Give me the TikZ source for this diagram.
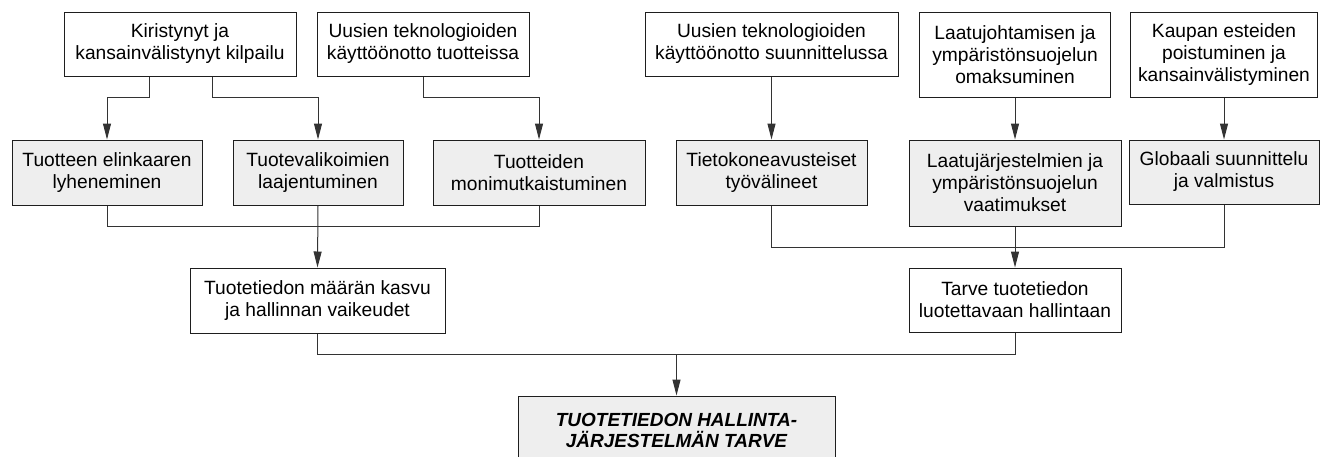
\documentclass[tikz,border=0pt]{standalone}
\usepackage{fontspec}
\setmainfont{Liberation Sans}
\usetikzlibrary{arrows.meta}
\definecolor{boxgray}{HTML}{EEEEEE}
\definecolor{edge}{HTML}{1E1E1E}
\definecolor{wire}{HTML}{333333}
\tikzset{
  base/.style={draw=edge, line width=1pt, rectangle, inner sep=0pt, align=center,
    font=\fontsize{19.2}{22}\selectfont, anchor=center},
  cause/.style={base, fill=white},
  effect/.style={base, fill=boxgray},
  goal/.style={base, fill=boxgray, font=\fontsize{19}{21}\selectfont\bfseries\itshape},
  wireline/.style={draw=wire, line width=1pt},
  arr/.style={wireline, -{Triangle[length=16pt,width=8pt]}}
}
\begin{document}
\begin{tikzpicture}[x=1pt, y=-1pt]
\useasboundingbox (0,0) rectangle (1324,456);
\clip (0,0) rectangle (1324,456);

% top row: driving factors
\node[cause, minimum width=232pt, minimum height=64pt] (A) at (180,44)
  {Kiristynyt ja\\kansainvälistynyt kilpailu};
\node[cause, minimum width=212pt, minimum height=64pt] (B) at (423,44)
  {Uusien teknologioiden\\käyttöönotto tuotteissa};
\node[cause, minimum width=253pt, minimum height=64pt] (C) at (771.5,44)
  {Uusien teknologioiden\\käyttöönotto suunnittelussa};
\node[cause, minimum width=191pt, minimum height=85pt] (D) at (1015,54.5)
  {Laatujohtamisen ja\\ympäristönsuojelun\\omaksuminen};
\node[cause, minimum width=187pt, minimum height=85pt] (E) at (1224,54.5)
  {Kaupan esteiden\\poistuminen ja\\kansainvälistyminen};

% second row: consequences
\node[effect, minimum width=190pt, minimum height=65pt] (F) at (107,172.5)
  {Tuotteen elinkaaren\\lyheneminen};
\node[effect, minimum width=170pt, minimum height=65pt] (G) at (318,172.5)
  {Tuotevalikoimien\\laajentuminen};
\node[effect, minimum width=212pt, minimum height=65pt] (H) at (539,172.5)
  {Tuotteiden\\monimutkaistuminen};
\node[effect, minimum width=191pt, minimum height=65pt] (I) at (771.5,172.5)
  {Tietokoneavusteiset\\työvälineet};
\node[effect, minimum width=212pt, minimum height=86pt] (J) at (1015,183)
  {Laatujärjestelmien ja\\ympäristönsuojelun\\vaatimukset};
\node[effect, minimum width=190pt, minimum height=64pt] (K) at (1224,172)
  {Globaali suunnittelu\\ja valmistus};

% third row
\node[cause, minimum width=255pt, minimum height=65pt] (L) at (317.5,300.5)
  {Tuotetiedon määrän kasvu\\ja hallinnan vaikeudet};
\node[cause, minimum width=212pt, minimum height=64pt] (M) at (1015,300)
  {Tarve tuotetiedon\\luotettavaan hallintaan};

% conclusion
\node[goal, minimum width=317pt, minimum height=68pt] (N) at (676.5,430)
  {TUOTETIEDON HALLINTA-\\JÄRJESTELMÄN TARVE};

% connectors from the top row
\draw[arr] ([xshift=-31pt]A.south) -- ++(0,21) -| (F.north);
\draw[arr] ([xshift=32pt]A.south) -- ++(0,21) -| (G.north);
\draw[arr] (B.south) -- ++(0,21) -| (H.north);
\draw[arr] (C.south) -- (I.north);
\draw[arr] (D.south) -- (J.north);
\draw[arr] (E.south) -- (K.north);

% left group merges into L
\draw[wireline] (F.south) -- ++(0,21) -| (H.south);
\draw[arr] (G.south) -- (L.north);

% right group merges into M
\draw[wireline] (I.south) -- ++(0,42) -| (K.south);
\draw[arr] (J.south) -- (M.north);

% both branches merge into the conclusion
\draw[wireline] (L.south) -- ++(0,21) coordinate (join) -| (M.south);
\draw[arr] (join -| N.north) -- (N.north);
\end{tikzpicture}
\end{document}
